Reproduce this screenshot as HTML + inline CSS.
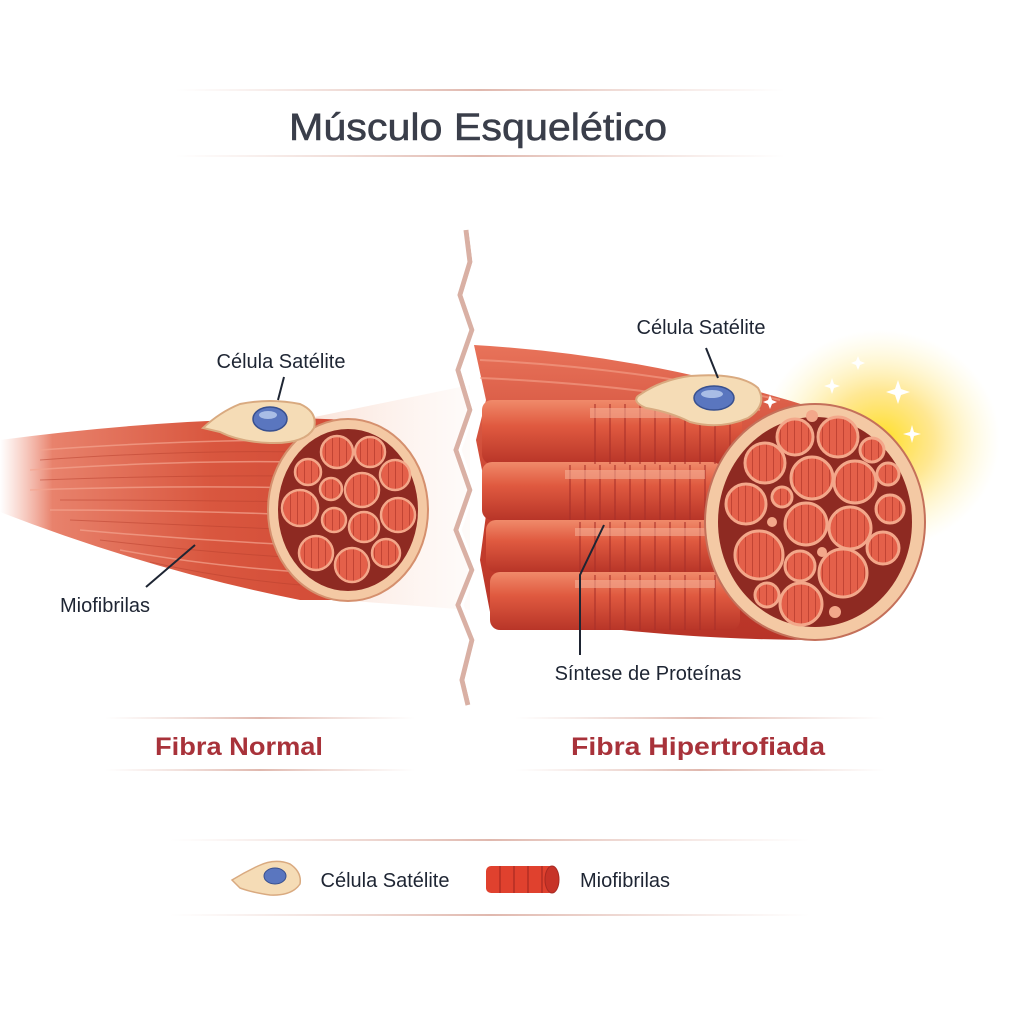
<!DOCTYPE html>
<html><head><meta charset="utf-8"><style>
html,body{margin:0;padding:0;background:#fff}
svg{display:block}
text{font-family:"Liberation Sans","DejaVu Sans",sans-serif}
</style></head><body>
<svg width="1024" height="1024" viewBox="0 0 1024 1024" xmlns="http://www.w3.org/2000/svg">
<defs>
<linearGradient id="hl" x1="0" x2="1"><stop offset="0" stop-color="#e8c8c0" stop-opacity="0"/><stop offset=".5" stop-color="#e0b8ae"/><stop offset="1" stop-color="#e8c8c0" stop-opacity="0"/></linearGradient>
<linearGradient id="lf" x1="0" x2="1"><stop offset="0" stop-color="#f3a08c" stop-opacity="0"/><stop offset=".15" stop-color="#e8826c"/><stop offset=".6" stop-color="#d9573f"/><stop offset="1" stop-color="#d24a36"/></linearGradient>
<linearGradient id="rf" x1="0" y1="0" x2="0" y2="1"><stop offset="0" stop-color="#e8735a"/><stop offset=".5" stop-color="#c8402e"/><stop offset="1" stop-color="#b83428"/></linearGradient>
<linearGradient id="trail" x1="0" x2="1"><stop offset="0" stop-color="#f6c9b6" stop-opacity=".8"/><stop offset="1" stop-color="#fbe2d6" stop-opacity=".2"/></linearGradient>
<radialGradient id="glow"><stop offset="0" stop-color="#ffe020" stop-opacity="1"/><stop offset=".45" stop-color="#ffd84a" stop-opacity=".6"/><stop offset="1" stop-color="#fff2a0" stop-opacity="0"/></radialGradient>
<linearGradient id="cyl" x1="0" y1="0" x2="0" y2="1"><stop offset="0" stop-color="#f08a6a"/><stop offset=".4" stop-color="#e05a40"/><stop offset="1" stop-color="#b83528"/></linearGradient>
<pattern id="grid" width="7" height="7" patternUnits="userSpaceOnUse"><rect width="7" height="7" fill="#e4604a"/><path d="M3.5 0V7" stroke="#c24434" stroke-width="1"/></pattern>
</defs>

<rect x="175" y="89" width="610" height="2" fill="url(#hl)"/>
<rect x="175" y="155" width="610" height="2" fill="url(#hl)"/>
<text x="478" y="140" text-anchor="middle" font-size="38" fill="#3a3e4a" stroke="#3a3e4a" stroke-width=".6" textLength="378" lengthAdjust="spacingAndGlyphs">Músculo Esquelético</text>

<path d="M300 420 L470 385 L470 610 L340 600 Z" fill="url(#trail)" opacity=".7"/>
<path d="M0 440 Q150 420 300 418 L350 420 L350 600 L300 600 Q150 570 0 512 Z" fill="url(#lf)"/>
<g stroke="#f4a590" stroke-width="1.5" opacity=".7" fill="none">
<path d="M40 450 Q180 440 300 440"/><path d="M30 470 Q180 460 300 462"/><path d="M30 490 Q180 485 300 488"/><path d="M50 510 Q180 510 300 515"/><path d="M80 530 Q190 540 300 545"/><path d="M120 550 Q200 565 300 572"/>
</g>
<g stroke="#b8402e" stroke-width="1" opacity=".5" fill="none">
<path d="M40 460 Q180 450 300 452"/><path d="M40 480 Q180 475 300 476"/><path d="M60 500 Q180 500 300 502"/><path d="M70 520 Q190 525 300 530"/><path d="M100 540 Q200 552 300 558"/><path d="M150 562 Q220 578 300 585"/>
</g>
<ellipse cx="348" cy="510" rx="80" ry="91" fill="#f4c9a4" stroke="#d5906e" stroke-width="2"/>
<ellipse cx="348" cy="510" rx="70" ry="81" fill="#8e2a22"/>
<g fill="url(#grid)" stroke="#f3a78a" stroke-width="2.5">
<circle cx="337" cy="452" r="16"/><circle cx="370" cy="452" r="15"/><circle cx="395" cy="475" r="15"/><circle cx="308" cy="472" r="13"/>
<circle cx="331" cy="489" r="11"/><circle cx="362" cy="490" r="17"/><circle cx="300" cy="508" r="18"/><circle cx="334" cy="520" r="12"/>
<circle cx="364" cy="527" r="15"/><circle cx="398" cy="515" r="17"/><circle cx="316" cy="553" r="17"/><circle cx="352" cy="565" r="17"/><circle cx="386" cy="553" r="14"/>
</g>
<path d="M203 428 Q220 412 240 404 Q270 398 300 404 Q318 412 314 428 Q305 444 270 443 Q240 442 220 432 Z" fill="#f5dcb6" stroke="#d9aa80" stroke-width="2"/>
<ellipse cx="270" cy="419" rx="17" ry="12" fill="#5a76bf" stroke="#38508f" stroke-width="1.5"/>
<ellipse cx="268" cy="415" rx="9" ry="4" fill="#a9bde6"/>
<text x="281" y="368" text-anchor="middle" font-size="20" fill="#1e2533">Célula Satélite</text>
<line x1="284" y1="377" x2="278" y2="400" stroke="#1e2533" stroke-width="2"/>
<text x="105" y="612" text-anchor="middle" font-size="20" fill="#1e2533">Miofibrilas</text>
<line x1="146" y1="587" x2="195" y2="545" stroke="#1e2533" stroke-width="2"/>

<path d="M466 230 L470 262 L460 295 L472 330 L458 370 L470 410 L456 450 L470 490 L456 530 L472 570 L458 605 L472 640 L462 680 L468 705" fill="none" stroke="#d9b0a4" stroke-width="5"/>
<path d="M470 230 L474 262 L464 295 L476 330 L462 370 L474 410 L460 450 L474 490 L460 530 L476 570 L462 605 L476 640 L466 680 L472 705" fill="none" stroke="#fff" stroke-width="3"/>

<ellipse cx="880" cy="440" rx="120" ry="110" fill="url(#glow)"/>
<path d="M474 345 Q650 355 820 410 L820 640 Q650 640 490 612 L480 560 L488 500 L476 440 L486 400 Z" fill="url(#rf)"/>
<g stroke="#f5a38c" stroke-width="2" opacity=".6" fill="none"><path d="M480 360 Q640 368 780 400"/><path d="M480 378 Q640 385 760 410"/></g>
<g>
<rect x="482" y="400" width="260" height="64" rx="10" fill="url(#cyl)"/>
<rect x="482" y="462" width="240" height="58" rx="10" fill="url(#cyl)"/>
<rect x="486" y="520" width="230" height="52" rx="10" fill="url(#cyl)"/>
<rect x="490" y="572" width="250" height="58" rx="10" fill="url(#cyl)"/>
</g>
<g stroke="#a8302a" stroke-width="1.5" opacity=".7">
<path d="M595 404V464M610 404V464M625 404V464M640 404V464M655 404V464M670 404V464M685 404V464M700 404V464M715 404V464M730 404V464"/>
<path d="M570 465V520M585 465V520M600 465V520M615 465V520M630 465V520M645 465V520M660 465V520M675 465V520M690 465V520M705 465V520"/>
<path d="M580 522V572M595 522V572M610 522V572M625 522V572M640 522V572M655 522V572M670 522V572M685 522V572M700 522V572"/>
<path d="M580 575V630M595 575V630M610 575V630M625 575V630M640 575V630M655 575V630M670 575V630M685 575V630M700 575V630M715 575V630"/>
</g>
<g fill="#f7b39a" opacity=".55"><rect x="590" y="408" width="140" height="10"/><rect x="565" y="470" width="140" height="9"/><rect x="575" y="528" width="130" height="8"/><rect x="575" y="580" width="140" height="8"/></g>
<ellipse cx="815" cy="522" rx="110" ry="118" fill="#f4c9a4" stroke="#c4705a" stroke-width="2"/>
<ellipse cx="815" cy="522" rx="97" ry="105" fill="#8e2a22"/>
<g fill="url(#grid)" stroke="#f3a78a" stroke-width="3">
<circle cx="795" cy="437" r="18"/><circle cx="838" cy="437" r="20"/><circle cx="872" cy="450" r="12"/>
<circle cx="765" cy="463" r="20"/><circle cx="812" cy="478" r="21"/><circle cx="855" cy="482" r="21"/><circle cx="888" cy="474" r="11"/>
<circle cx="746" cy="504" r="20"/><circle cx="782" cy="497" r="10"/><circle cx="806" cy="524" r="21"/><circle cx="850" cy="528" r="21"/><circle cx="890" cy="509" r="14"/>
<circle cx="759" cy="555" r="24"/><circle cx="800" cy="566" r="15"/><circle cx="843" cy="573" r="24"/><circle cx="883" cy="548" r="16"/>
<circle cx="767" cy="595" r="12"/><circle cx="801" cy="604" r="21"/>
</g>
<g fill="#f3a78a"><circle cx="812" cy="416" r="6"/><circle cx="772" cy="522" r="5"/><circle cx="822" cy="552" r="5"/><circle cx="835" cy="612" r="6"/></g>
<g fill="#fff">
<path d="M898 380 l3 9 9 3 -9 3 -3 9 -3 -9 -9 -3 9 -3z"/><path d="M832 378 l2 6 6 2 -6 2 -2 6 -2 -6 -6 -2 6 -2z"/>
<path d="M912 425 l2 7 7 2 -7 2 -2 7 -2 -7 -7 -2 7 -2z"/><path d="M782 360 l2 5 5 2 -5 2 -2 5 -2 -5 -5 -2 5 -2z"/>
<path d="M858 356 l2 5 5 2 -5 2 -2 5 -2 -5 -5 -2 5 -2z"/><path d="M770 395 l2 5 5 2 -5 2 -2 5 -2 -5 -5 -2 5 -2z"/>
</g>
<path d="M638 396 Q660 380 690 376 Q740 372 758 388 Q768 405 748 418 Q720 430 690 422 Q670 412 646 408 Q632 402 638 396 Z" fill="#f5dcb6" stroke="#d9aa80" stroke-width="2"/>
<ellipse cx="714" cy="398" rx="20" ry="12" fill="#5a76bf" stroke="#38508f" stroke-width="1.5"/>
<ellipse cx="712" cy="394" rx="11" ry="4" fill="#a9bde6"/>
<text x="701" y="334" text-anchor="middle" font-size="20" fill="#1e2533">Célula Satélite</text>
<line x1="706" y1="348" x2="718" y2="378" stroke="#1e2533" stroke-width="2"/>
<text x="648" y="680" text-anchor="middle" font-size="20" fill="#1e2533">Síntese de Proteínas</text>
<path d="M580 655 L580 575 L604 525" fill="none" stroke="#1e2533" stroke-width="2"/>

<rect x="105" y="717" width="310" height="2" fill="url(#hl)"/>
<rect x="105" y="769" width="310" height="2" fill="url(#hl)"/>
<rect x="515" y="717" width="370" height="2" fill="url(#hl)"/>
<rect x="515" y="769" width="370" height="2" fill="url(#hl)"/>
<text x="239" y="755" text-anchor="middle" font-size="25" font-weight="bold" fill="#a8323a" textLength="168" lengthAdjust="spacingAndGlyphs">Fibra Normal</text>
<text x="698" y="755" text-anchor="middle" font-size="25" font-weight="bold" fill="#a8323a" textLength="254" lengthAdjust="spacingAndGlyphs">Fibra Hipertrofiada</text>

<rect x="170" y="839" width="640" height="2" fill="url(#hl)"/>
<rect x="170" y="914" width="640" height="2" fill="url(#hl)"/>
<path d="M232 880 Q245 872 258 866 Q275 858 290 864 Q302 872 300 884 Q292 896 270 895 Q250 892 240 888 Z" fill="#f5dcb6" stroke="#d9aa80" stroke-width="1.5"/>
<ellipse cx="275" cy="876" rx="11" ry="8" fill="#5a76bf" stroke="#38508f"/>
<text x="385" y="887" text-anchor="middle" font-size="20" fill="#1e2533">Célula Satélite</text>
<rect x="486" y="866" width="68" height="27" rx="5" fill="#e0412e"/>
<ellipse cx="552" cy="879.5" rx="7" ry="13.5" fill="#c73328" stroke="#a82a22"/>
<path d="M500 866v27M514 866v27M528 866v27M542 866v27" stroke="#a82a22" stroke-width="1.2"/>
<text x="625" y="887" text-anchor="middle" font-size="20" fill="#1e2533">Miofibrilas</text>
</svg>
</body></html>
